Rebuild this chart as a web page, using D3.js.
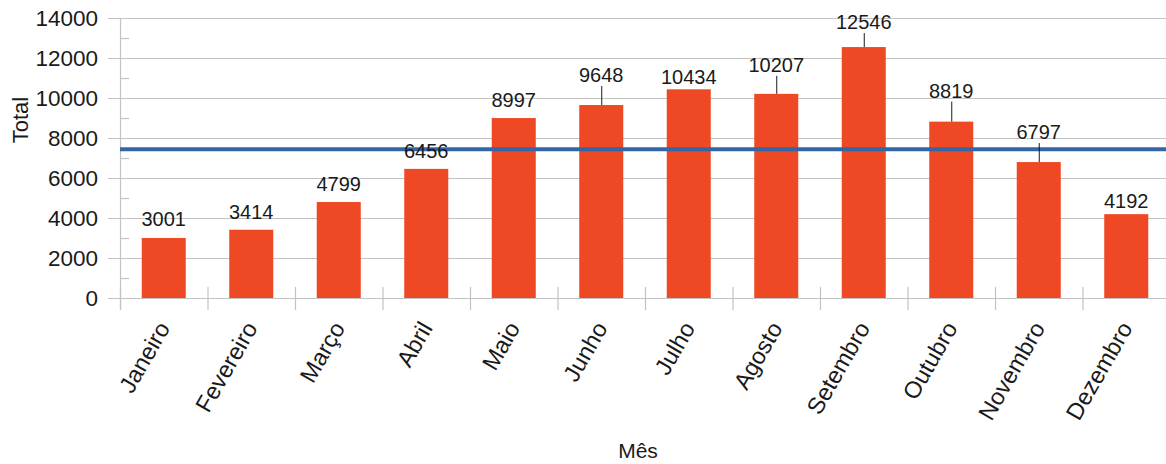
<!DOCTYPE html>
<html>
<head>
<meta charset="utf-8">
<script src="https://cdn.jsdelivr.net/npm/d3@7"></script>
<style>
  html, body { margin: 0; padding: 0; background: #fff; }
  svg { display: block; font-family: "Liberation Sans", Arial, sans-serif; }
</style>
</head>
<body>
<svg id="chart" width="1166" height="464"></svg>
<script>
// Monthly totals
const meses = ["Janeiro", "Fevereiro", "Março", "Abril", "Maio", "Junho",
               "Julho", "Agosto", "Setembro", "Outubro", "Novembro", "Dezembro"];
const totais = [3001, 3414, 4799, 6456, 8997, 9648, 10434, 10207, 12546, 8819, 6797, 4192];
const yTicks = [0, 2000, 4000, 6000, 8000, 10000, 12000, 14000];
const yMinorTicks = [1000, 3000, 5000, 7000, 9000, 11000, 13000];

// Distance (px) of each value label above its bar; tall gaps get a leader line
const labelLift = [12, 11, 11, 11, 11, 23, 5, 22, 18, 24, 23, 6];

const media = d3.mean(totais);

const svg = d3.select("#chart");
const W = 1166;
const plotLeft = 120, plotRight = 1170, plotTop = 18, plotBottom = 298;

const x = d3.scaleBand().domain(meses).range([plotLeft, plotRight])
  .paddingInner(0.497).paddingOuter(0.2485);
const y = d3.scaleLinear().domain([0, 14000]).range([plotBottom, plotTop]);

const gridColor = "#c3c3c3";
const textColor = "#1a1a1a";

// Horizontal grid lines (major ticks reach out to the labels)
svg.append("g").selectAll("line").data(yTicks).join("line")
  .attr("x1", plotLeft - 12).attr("x2", W)
  .attr("y1", d => y(d) + 0.5).attr("y2", d => y(d) + 0.5)
  .attr("stroke", gridColor).attr("stroke-width", 1.2);

// Minor ticks inside the plot
svg.append("g").selectAll("line").data(yMinorTicks).join("line")
  .attr("x1", plotLeft).attr("x2", plotLeft + 9)
  .attr("y1", d => y(d) + 0.5).attr("y2", d => y(d) + 0.5)
  .attr("stroke", gridColor).attr("stroke-width", 1.2);

// Y axis line
svg.append("line")
  .attr("x1", plotLeft + 0.5).attr("x2", plotLeft + 0.5)
  .attr("y1", plotTop).attr("y2", plotBottom + 12)
  .attr("stroke", gridColor).attr("stroke-width", 1.2);

// Category boundary ticks
const step = x.step();
const boundaries = d3.range(meses.length + 1).map(i => plotLeft + i * step);
svg.append("g").selectAll("line").data(boundaries).join("line")
  .attr("x1", d => d + 0.5).attr("x2", d => d + 0.5)
  .attr("y1", plotBottom - 11).attr("y2", plotBottom + 12)
  .attr("stroke", gridColor).attr("stroke-width", 1.2);

// Y tick labels
svg.append("g").selectAll("text").data(yTicks).join("text")
  .attr("x", 98).attr("y", d => y(d))
  .attr("dy", "0.36em")
  .attr("text-anchor", "end")
  .attr("font-size", 22.5)
  .attr("fill", textColor)
  .text(d => d);

// Bars
svg.append("g").selectAll("rect").data(totais).join("rect")
  .attr("x", (d, i) => x(meses[i]))
  .attr("width", x.bandwidth())
  .attr("y", d => y(d))
  .attr("height", d => y(0) - y(d))
  .attr("fill", "#ee4824");

// Average line
svg.append("line")
  .attr("x1", plotLeft).attr("x2", W)
  .attr("y1", y(media)).attr("y2", y(media))
  .attr("stroke", "#3465a4").attr("stroke-width", 4);

// Leader lines for labels lifted away from their bars
svg.append("g").selectAll("line")
  .data(totais.map((v, i) => ({ v, i })).filter(d => labelLift[d.i] > 15))
  .join("line")
  .attr("x1", d => x(meses[d.i]) + x.bandwidth() / 2 + 0.5)
  .attr("x2", d => x(meses[d.i]) + x.bandwidth() / 2 + 0.5)
  .attr("y1", d => y(d.v) - labelLift[d.i] + 4)
  .attr("y2", d => y(d.v))
  .attr("stroke", "#1a1a1a").attr("stroke-width", 1);

// Value labels
svg.append("g").selectAll("text").data(totais).join("text")
  .attr("x", (d, i) => x(meses[i]) + x.bandwidth() / 2)
  .attr("y", (d, i) => y(d) - labelLift[i])
  .attr("text-anchor", "middle")
  .attr("font-size", 20)
  .attr("fill", textColor)
  .text(d => d);

// Rotated month labels
svg.append("g").selectAll("text").data(meses).join("text")
  .attr("transform", d => `translate(${x(d) + x.bandwidth() / 2 + 7},328) rotate(-60)`)
  .attr("text-anchor", "end")
  .attr("font-size", 23.5)
  .attr("fill", textColor)
  .text(d => d);

// Axis titles
svg.append("text")
  .attr("x", 638).attr("y", 458)
  .attr("text-anchor", "middle")
  .attr("font-size", 21)
  .attr("fill", textColor)
  .text("Mês");

svg.append("text")
  .attr("transform", "translate(28,120) rotate(-90)")
  .attr("text-anchor", "middle")
  .attr("font-size", 22)
  .attr("fill", textColor)
  .text("Total");
</script>
</body>
</html>
